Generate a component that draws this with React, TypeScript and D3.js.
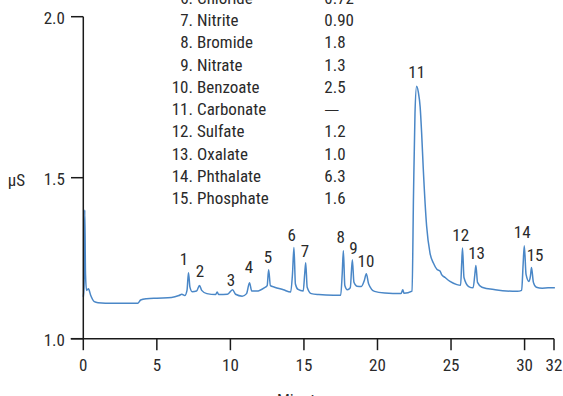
import React from "react";
import * as d3 from "d3";

const legendNumbers = ["6.", "7.", "8.", "9.", "10.", "11.", "12.", "13.", "14.", "15."];
const legendNames = ["Chloride", "Nitrite", "Bromide", "Nitrate", "Benzoate", "Carbonate", "Sulfate", "Oxalate", "Phthalate", "Phosphate"];
const legendValues = ["0.72", "0.90", "1.8", "1.3", "2.5", "\u2014", "1.2", "1.0", "6.3", "1.6"];

const xTicks = [0, 5, 10, 15, 20, 25, 30, 32];
const yTicks = [1.0, 1.5, 2.0];

const traceMinutes = [
  0.0, 0.05, 0.1, 0.15, 0.22, 0.35, 0.5, 0.75, 1.0, 2.0, 3.0, 3.7, 3.9, 4.3, 5.0, 6.0, 6.5, 6.7, 6.9,
  7.05, 7.15, 7.25, 7.4, 7.7, 7.9, 8.05, 8.4, 9.0, 9.1, 9.2, 9.8, 10.15, 10.35, 10.8, 11.1, 11.3, 11.45,
  11.8, 12.3, 12.5, 12.6, 12.72, 13.0, 13.6, 14.1, 14.22, 14.32, 14.42, 14.6, 14.95, 15.05, 15.12, 15.22,
  15.5, 16.0, 17.0, 17.5, 17.6, 17.68, 17.78, 17.95, 18.15, 18.29, 18.4, 18.6, 18.9, 19.1, 19.24, 19.4,
  19.8, 20.5, 21.6, 21.72, 21.8, 22.35, 22.45, 22.55, 22.66, 22.78, 22.9, 23.0, 23.11, 23.34, 23.57, 23.8,
  24.05, 24.25, 24.35, 24.6, 24.93, 25.4, 25.65, 25.72, 25.78, 25.88, 26.2, 26.5, 26.62, 26.69, 26.8,
  27.1, 28.0, 29.5, 29.8, 29.9, 29.98, 30.1, 30.3, 30.4, 30.47, 30.6, 30.8, 31.2, 31.6, 32.06,
];
const traceMicroS = [
  1.13, 1.16, 1.4, 1.2, 1.15, 1.155, 1.135, 1.115, 1.112, 1.11, 1.11, 1.11, 1.12, 1.124, 1.126, 1.128, 1.134, 1.138, 1.134,
  1.15, 1.205, 1.16, 1.146, 1.148, 1.165, 1.15, 1.14, 1.137, 1.145, 1.137, 1.138, 1.152, 1.138, 1.132, 1.14, 1.174, 1.148,
  1.148, 1.158, 1.165, 1.214, 1.165, 1.16, 1.152, 1.145, 1.2, 1.283, 1.17, 1.153, 1.148, 1.2, 1.236, 1.16,
  1.14, 1.137, 1.135, 1.135, 1.2, 1.273, 1.165, 1.152, 1.158, 1.245, 1.175, 1.163, 1.162, 1.18, 1.202, 1.17,
  1.147, 1.142, 1.14, 1.152, 1.141, 1.148, 1.45, 1.7, 1.784, 1.765, 1.72, 1.64, 1.53, 1.35, 1.266, 1.235,
  1.215, 1.21, 1.2, 1.19, 1.178, 1.168, 1.166, 1.23, 1.282, 1.19, 1.162, 1.158, 1.2, 1.227, 1.175,
  1.16, 1.152, 1.147, 1.15, 1.23, 1.289, 1.2, 1.178, 1.195, 1.221, 1.175, 1.16, 1.157, 1.158, 1.158,
];

const peakLabels = ["1", "2", "3", "4", "5", "6", "7", "8", "9", "10", "11", "12", "13", "14", "15"];
const peakLabelMinutes = [6.85, 7.93, 10.04, 11.26, 12.56, 14.17, 15.07, 17.5, 18.36, 19.22, 22.67, 25.66, 26.74, 29.84, 30.71];
const peakLabelMicroS = [1.229, 1.193, 1.164, 1.204, 1.235, 1.303, 1.255, 1.296, 1.263, 1.222, 1.809, 1.303, 1.247, 1.312, 1.241];

const W = 563;
const H = 396;
const FONT = "'Liberation Sans Narrow', 'Roboto Condensed', 'Arial Narrow', Roboto, sans-serif";

export default function App() {
  const x = d3.scaleLinear().domain([0, 32]).range([83.3, 554]);
  const y = d3.scaleLinear().domain([1, 2]).range([338.7, 16.7]);
  const pts: [number, number][] = traceMinutes.map((m, i) => [m, traceMicroS[i]]);
  const line = d3
    .line<[number, number]>()
    .x((d) => x(d[0]))
    .y((d) => y(d[1]))
    .curve(d3.curveMonotoneX);

  const axisColor = "#1a1a1a";
  const textColor = "#2a2a2a";

  return (
    <svg
      width={W}
      height={H}
      style={{ position: "absolute", left: 0, top: 0, background: "#fff" }}
      fontFamily={FONT}
      fontSize={17}
    >
      <rect x={0} y={0} width={W} height={H} fill="#fff" />
      {/* legend */}
      {legendNames.map((n, i) => {
        const by = 3.75 + i * 22.25;
        const isDash = legendValues[i] === "\u2014";
        return (
          <g key={n} fill={textColor}>
            <text x={193} y={by} textAnchor="end">{legendNumbers[i]}</text>
            <text x={197} y={by}>{n}</text>
            {isDash ? (
              <text x={325} y={by - 1.5} fontFamily="'Liberation Sans', Arial, sans-serif" fontSize={13.5}>{legendValues[i]}</text>
            ) : (
              <text x={324.3} y={by}>{legendValues[i]}</text>
            )}
          </g>
        );
      })}
      {/* trace */}
      <path d={line(pts) || ""} fill="none" stroke="#4a87c7" strokeWidth={1.5} strokeLinejoin="round" />
      {/* axes */}
      <line x1={x(0)} x2={x(0)} y1={y(2)} y2={y(1)} stroke={axisColor} strokeWidth={1.5} />
      <line x1={70.7} x2={x(32)} y1={y(1)} y2={y(1)} stroke={axisColor} strokeWidth={1.5} />
      {yTicks.map((t) => (
        <g key={t}>
          <line x1={71} x2={x(0)} y1={y(t)} y2={y(t)} stroke={axisColor} strokeWidth={1.5} />
          <text x={65} y={y(t) + 7.3} textAnchor="end" fill={textColor}>{t.toFixed(1)}</text>
        </g>
      ))}
      {xTicks.map((t) => (
        <g key={t}>
          <line x1={x(t)} x2={x(t)} y1={y(1)} y2={y(1) + 11.5} stroke={axisColor} strokeWidth={1.5} />
          <text x={x(t)} y={371} textAnchor="middle" fill={textColor}>{t}</text>
        </g>
      ))}
      <text x={16.5} y={185.7} textAnchor="middle" fill={textColor}>µS</text>
      <text x={304} y={405.5} textAnchor="middle" fill={textColor}>Minutes</text>
      {/* peak labels */}
      {peakLabels.map((l, i) => (
        <text key={l} x={x(peakLabelMinutes[i])} y={y(peakLabelMicroS[i])} textAnchor="middle" fill={textColor}>{l}</text>
      ))}
    </svg>
  );
}
